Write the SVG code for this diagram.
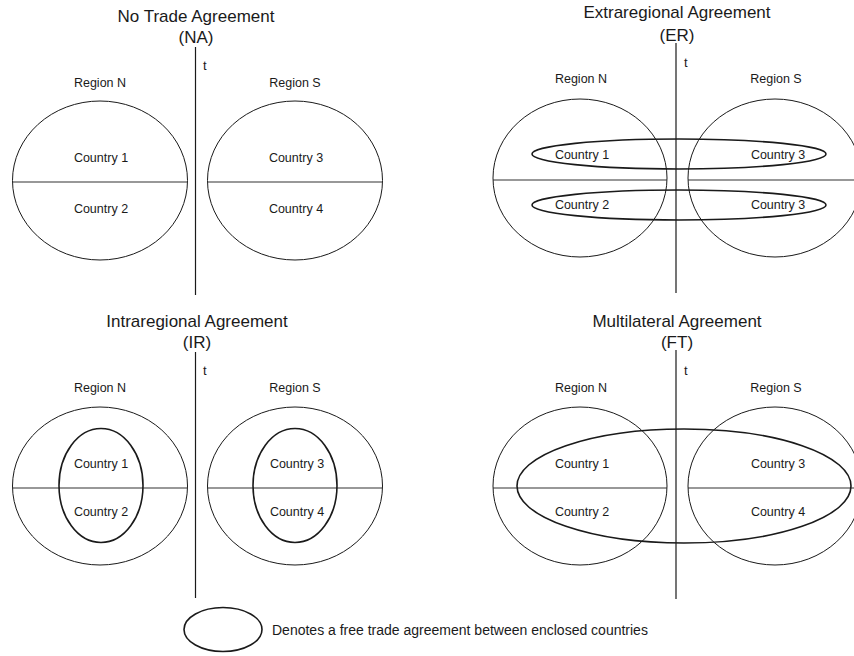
<svg xmlns="http://www.w3.org/2000/svg" width="854" height="656" viewBox="0 0 854 656">
<style>
text{font-family:"Liberation Sans",Arial,sans-serif;fill:#1a1a1a}
.title{font-size:17px;text-anchor:middle}
.lbl{font-size:12.5px;text-anchor:middle}
.t{font-size:13px}
.leg{font-size:14px}
.reg{fill:none;stroke:#1a1a1a;stroke-width:1}
.fta{fill:none;stroke:#1a1a1a;stroke-width:1.6}
.ax{stroke:#1a1a1a;stroke-width:1.2}
.div{stroke:#333;stroke-width:1.2}
</style>
<rect width="854" height="656" fill="#fff"/>
<g id="connectors">
<line class="ax" x1="195.5" y1="47" x2="195.5" y2="295"/>
<line class="ax" x1="676" y1="43" x2="676" y2="293"/>
<line class="ax" x1="195.5" y1="352" x2="195.5" y2="598"/>
<line class="ax" x1="676" y1="350" x2="676" y2="599"/>
</g>
<g id="panel-na">
<text class="title" x="196" y="21.5">No Trade Agreement</text>
<text class="title" x="196" y="43">(NA)</text>
<text class="t" x="203" y="70">t</text>
<g id="na-region-n">
<text class="lbl" x="100" y="87">Region N</text>
<ellipse class="reg" cx="100" cy="180.5" rx="87.5" ry="79.5"/>
<line class="div" x1="12.5" y1="182" x2="187.5" y2="182"/>
<text class="lbl" x="101" y="162">Country 1</text>
<text class="lbl" x="101" y="213">Country 2</text>
</g>
<g id="na-region-s">
<text class="lbl" x="295" y="87">Region S</text>
<ellipse class="reg" cx="295" cy="180.5" rx="87.5" ry="79.5"/>
<line class="div" x1="207.5" y1="182" x2="382.5" y2="182"/>
<text class="lbl" x="296" y="162">Country 3</text>
<text class="lbl" x="296" y="213">Country 4</text>
</g>
</g>
<g id="panel-er">
<text class="title" x="677" y="18">Extraregional Agreement</text>
<text class="title" x="677" y="41">(ER)</text>
<text class="t" x="684" y="67">t</text>
<g id="er-region-n">
<text class="lbl" x="581" y="83">Region N</text>
<ellipse class="reg" cx="580" cy="178" rx="87" ry="79"/>
<line class="div" x1="493" y1="180" x2="667" y2="180"/>
</g>
<g id="er-region-s">
<text class="lbl" x="776" y="83">Region S</text>
<ellipse class="reg" cx="775" cy="178" rx="87" ry="79"/>
<line class="div" x1="688" y1="180" x2="854" y2="180"/>
</g>
<g id="er-fta-1">
<ellipse class="fta" cx="679" cy="154" rx="147" ry="15"/>
<text class="lbl" x="582" y="159">Country 1</text>
<text class="lbl" x="778" y="159">Country 3</text>
</g>
<g id="er-fta-2">
<ellipse class="fta" cx="679" cy="205" rx="147" ry="15"/>
<text class="lbl" x="582" y="209">Country 2</text>
<text class="lbl" x="778" y="209">Country 3</text>
</g>
</g>
<g id="panel-ir">
<text class="title" x="197" y="327">Intraregional Agreement</text>
<text class="title" x="197" y="348">(IR)</text>
<text class="t" x="203" y="375">t</text>
<g id="ir-region-n">
<text class="lbl" x="100" y="392">Region N</text>
<ellipse class="reg" cx="100" cy="486" rx="87.5" ry="79"/>
<line class="div" x1="12.5" y1="488" x2="187.5" y2="488"/>
<ellipse class="fta" cx="101" cy="485.5" rx="42" ry="57"/>
<text class="lbl" x="101" y="468">Country 1</text>
<text class="lbl" x="101" y="516">Country 2</text>
</g>
<g id="ir-region-s">
<text class="lbl" x="295" y="392">Region S</text>
<ellipse class="reg" cx="295" cy="486" rx="87.5" ry="79"/>
<line class="div" x1="207.5" y1="488" x2="382.5" y2="488"/>
<ellipse class="fta" cx="295" cy="485.5" rx="42" ry="57"/>
<text class="lbl" x="297" y="468">Country 3</text>
<text class="lbl" x="297" y="516">Country 4</text>
</g>
</g>
<g id="panel-ft">
<text class="title" x="677" y="327">Multilateral Agreement</text>
<text class="title" x="677" y="348">(FT)</text>
<text class="t" x="684" y="375">t</text>
<g id="ft-region-n">
<text class="lbl" x="581" y="392">Region N</text>
<ellipse class="reg" cx="580" cy="486" rx="87" ry="79"/>
<line class="div" x1="493" y1="488" x2="667" y2="488"/>
</g>
<g id="ft-region-s">
<text class="lbl" x="776" y="392">Region S</text>
<ellipse class="reg" cx="775" cy="486" rx="87" ry="79"/>
<line class="div" x1="688" y1="488" x2="854" y2="488"/>
</g>
<g id="ft-fta">
<ellipse class="fta" cx="684" cy="486" rx="167" ry="57"/>
<text class="lbl" x="582" y="468">Country 1</text>
<text class="lbl" x="582" y="516">Country 2</text>
<text class="lbl" x="778" y="468">Country 3</text>
<text class="lbl" x="778" y="516">Country 4</text>
</g>
</g>
<g id="legend">
<ellipse class="fta" cx="223" cy="629.5" rx="39" ry="22"/>
<text class="leg" x="272" y="635">Denotes a free trade agreement between enclosed countries</text>
</g>
</svg>
